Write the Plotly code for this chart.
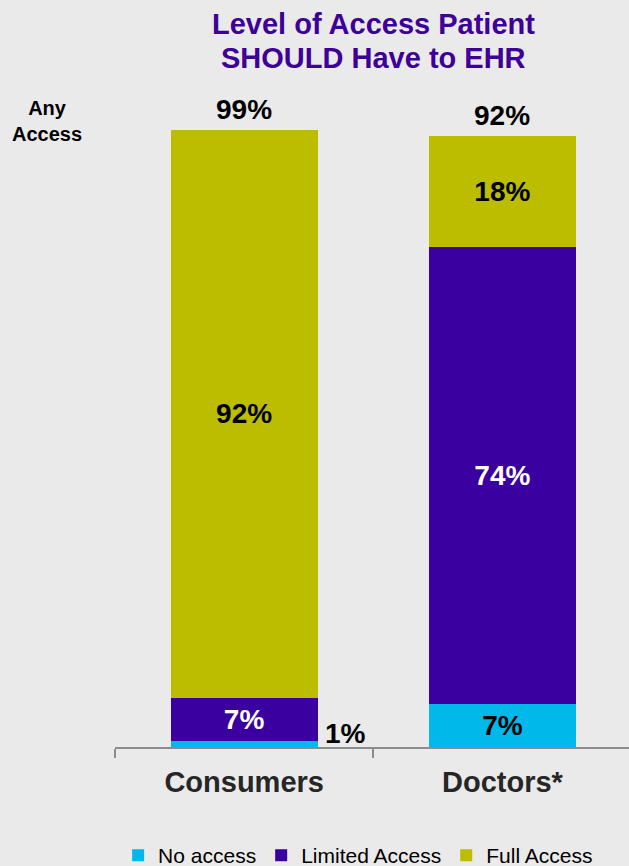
import plotly.graph_objects as go

# Survey results: level of EHR access patients should have
categories = ["Consumers", "Doctors*"]
no_access = [1, 7]
limited_access = [7, 74]
full_access = [92, 18]
any_access = [99, 92]
series_names = ["No access", "Limited Access", "Full Access"]
title_lines = ["Level of Access Patient", "SHOULD Have to EHR"]

FONT = "Liberation Sans, Arial, sans-serif"
C_NO = "#00B9EA"
C_LIM = "#3A00A0"
C_FULL = "#BDBD00"
C_TITLE = "#3D0099"
BG = "#EAEAEA"


def pct(values, min_inside=3):
    # values too small to fit inside the bar are labelled separately
    return [f"{v}%" if v >= min_inside else "" for v in values]


fig = go.Figure()
for name, vals, color, tcolor in [
    (series_names[0], no_access, C_NO, "black"),
    (series_names[1], limited_access, C_LIM, "white"),
    (series_names[2], full_access, C_FULL, "black"),
]:
    fig.add_trace(go.Bar(
        name=name, x=categories, y=vals, marker=dict(color=color, line=dict(width=0)),
        width=0.57, text=pct(vals), textposition="inside", insidetextanchor="middle",
        textfont=dict(family=FONT, size=28, color=tcolor, weight="bold"),
        constraintext="none", hoverinfo="skip",
    ))

annotations = []
# totals ("Any Access") above each bar
for cat, tot, na in zip(categories, any_access, no_access):
    annotations.append(dict(
        x=cat, y=tot + na, xref="x", yref="y", text=f"{tot}%", showarrow=False,
        yanchor="middle", yshift=21,
        font=dict(family=FONT, size=28, color="black", weight="bold"),
    ))
# small no-access value placed beside the Consumers bar
for cat, na in zip(categories, no_access):
    if na < 3:
        annotations.append(dict(
            x=cat, y=na, xref="x", yref="y", text=f"{na}%", showarrow=False,
            xanchor="center", yanchor="middle", xshift=101, yshift=7,
            font=dict(family=FONT, size=28, color="black", weight="bold"),
        ))
annotations.append(dict(
    x=-0.132, y=1.0146, xref="paper", yref="paper", text="Any<br>Access",
    showarrow=False, xanchor="center", yanchor="middle",
    font=dict(family=FONT, size=20, color="black", weight="bold"),
))
# two-line chart title with tighter line spacing
for line, ypos in zip(title_lines, [1.1725, 1.117]):
    annotations.append(dict(
        x=0.503, y=ypos, xref="paper", yref="paper", text=line, showarrow=False,
        xanchor="center", yanchor="middle",
        font=dict(family=FONT, size=29, color=C_TITLE, weight="bold"),
    ))

fig.update_layout(
    barmode="stack",
    width=629, height=866,
    margin=dict(l=115, r=0, t=130, b=119, pad=0, autoexpand=False),
    paper_bgcolor=BG, plot_bgcolor=BG,
    xaxis=dict(
        range=[-0.5, 1.49], showgrid=False, zeroline=False,
        showline=True, linecolor="#8C8C8C", linewidth=1.5,
        ticks="outside", tickson="boundaries", ticklen=9, tickcolor="#8C8C8C", tickwidth=1.5,
        tickfont=dict(family=FONT, size=29, color="#262626", weight="bold"),
        ticklabelstandoff=8,
    ),
    yaxis=dict(range=[0, 100], visible=False, fixedrange=True),
    legend=dict(
        orientation="h", x=0.473, xanchor="center", y=-0.176, yanchor="middle",
        font=dict(family=FONT, size=21, color="black"), traceorder="normal",
        bgcolor="rgba(0,0,0,0)", itemwidth=30,
    ),
    annotations=annotations,
    bargap=0.43,
)

fig.write_html("out.html")
